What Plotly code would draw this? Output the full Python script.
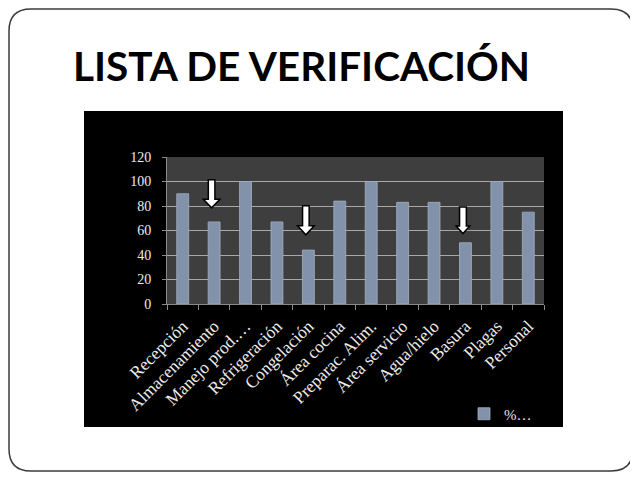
import plotly.graph_objects as go

# ---- data ----
categories = ["Recepción", "Almacenamiento", "Manejo prod.…", "Refrigeración",
              "Congelación", "Área cocina", "Preparac. Alim.", "Área servicio",
              "Agua/hielo", "Basura", "Plagas", "Personal"]
values = [90, 67, 100, 67, 44, 84, 100, 83, 83, 50, 100, 75]
series_name = "%…"
y_ticks = [0, 20, 40, 60, 80, 100, 120]
title_text = "LISTA DE VERIFICACIÓN"

# arrows marking low items: category, value at arrow tip
arrow_cats = ["Almacenamiento", "Congelación", "Basura"]
arrow_tips = [78.5, 56.5, 57.5]

# ---- layout geometry (target window pixels) ----
OFF = 8                      # page body margin
W, H = 638 - OFF, 479 - OFF
PL, PR, PT, PB = 167, 544, 157, 304   # plot area in window pixels
pw, ph = PR - PL, PB - PT

xidx = list(range(len(categories)))

fig = go.Figure()
fig.add_trace(go.Bar(
    x=xidx, y=values, name=series_name,
    marker=dict(color="#8192aa", line=dict(color="#a3b0c2", width=0.8)),
    width=0.38, showlegend=True,
))

shapes = []

def px_shape(path, **kw):
    d = dict(type="path", xref="paper", yref="paper", xsizemode="pixel",
             ysizemode="pixel", xanchor=0, yanchor=0, path=path)
    d.update(kw)
    return d

def rr_path(x0, y0, x1, y1, r):
    return (f"M {x0+r},{y1} L {x1-r},{y1} Q {x1},{y1} {x1},{y1-r} "
            f"L {x1},{y0+r} Q {x1},{y0} {x1-r},{y0} L {x0+r},{y0} "
            f"Q {x0},{y0} {x0},{y0+r} L {x0},{y1-r} Q {x0},{y1} {x0+r},{y1} Z")

def to_rel(xp, yp):
    return xp - PL, PB - yp

# slide border (kept inside the drawable page area)
bx0, by1 = to_rel(9, 9)
bx1, by0 = to_rel(633, 471)
shapes.append(px_shape(rr_path(bx0, by0, bx1, by1, 22),
                       line=dict(color="#3a3a3a", width=1.5),
                       fillcolor="rgba(0,0,0,0)", layer="below"))
# black chart area
cx0, cy1 = to_rel(84, 111)
cx1, cy0 = to_rel(563, 427)
shapes.append(px_shape(f"M {cx0},{cy0} L {cx1},{cy0} L {cx1},{cy1} L {cx0},{cy1} Z",
                       line=dict(width=0), fillcolor="#000000", layer="below"))
# plot area background
shapes.append(dict(type="rect", xref="paper", yref="paper", x0=0, x1=1, y0=0, y1=1,
                   line=dict(width=0), fillcolor="#3e3e3e", layer="below"))

# arrows (pixel sized, anchored on data)
arrow_dims = [(28, 8.5, 8.3, 3.3), (29, 9, 8.3, 3.3), (26.5, 7.5, 6.8, 3.4)]
for cat, tip, (tot, hh, hw, sw) in zip(arrow_cats, arrow_tips, arrow_dims):
    xi = categories.index(cat) - 0.08
    path = (f"M {-sw},{tot} L {sw},{tot} L {sw},{hh} L {hw},{hh} L 0,0 "
            f"L {-hw},{hh} L {-sw},{hh} Z")
    shapes.append(dict(type="path", xref="x", yref="y", xsizemode="pixel",
                       ysizemode="pixel", xanchor=xi, yanchor=tip, path=path,
                       fillcolor="#ffffff", line=dict(color="#000000", width=1.5),
                       layer="above"))

serif = "Liberation Serif, DejaVu Serif, serif"

fig.update_layout(
    width=W, height=H,
    margin=dict(l=PL - OFF, r=W - (PR - OFF), t=PT - OFF, b=H - (PB - OFF), pad=0),
    paper_bgcolor="#ffffff",
    plot_bgcolor="rgba(0,0,0,0)",
    shapes=shapes,
    showlegend=True,
    legend=dict(x=(464 - PL) / pw, y=(PB - 414) / ph, xanchor="left", yanchor="middle",
                bgcolor="rgba(0,0,0,0)", font=dict(family=serif, size=15, color="#e6e6e6"),
                itemwidth=30),
    annotations=[dict(text=f"<b>{title_text}</b>", xref="paper", yref="paper",
                      x=(71 - PL) / pw, y=(PB - 65) / ph, xanchor="left", yanchor="middle",
                      showarrow=False,
                      font=dict(family="Lato, Carlito, Open Sans, sans-serif", size=40.5,
                                color="#000000"))],
)

fig.update_xaxes(
    range=[-0.5, len(categories) - 0.5],
    tickmode="array", tickvals=xidx, ticktext=categories,
    tickangle=-45, ticks="", showgrid=False, zeroline=False,
    showline=True, linecolor="#8a8a8a", linewidth=1,
    tickfont=dict(family=serif, size=17.5, color="#ececec"),
    ticklabelstandoff=4,
    minor=dict(tick0=-0.5, dtick=1, ticks="outside", ticklen=5,
               tickcolor="#8a8a8a", tickwidth=1, showgrid=False),
)
fig.update_yaxes(
    range=[0, 120], tickmode="array", tickvals=y_ticks,
    ticks="outside", ticklen=4, tickcolor="#8a8a8a",
    showgrid=True, gridcolor="#a8a8a8", gridwidth=1, zeroline=False,
    showline=True, linecolor="#8a8a8a", linewidth=1,
    tickfont=dict(family=serif, size=14, color="#ececec"),
    ticklabelstandoff=8,
)

fig.write_html("out.html")
